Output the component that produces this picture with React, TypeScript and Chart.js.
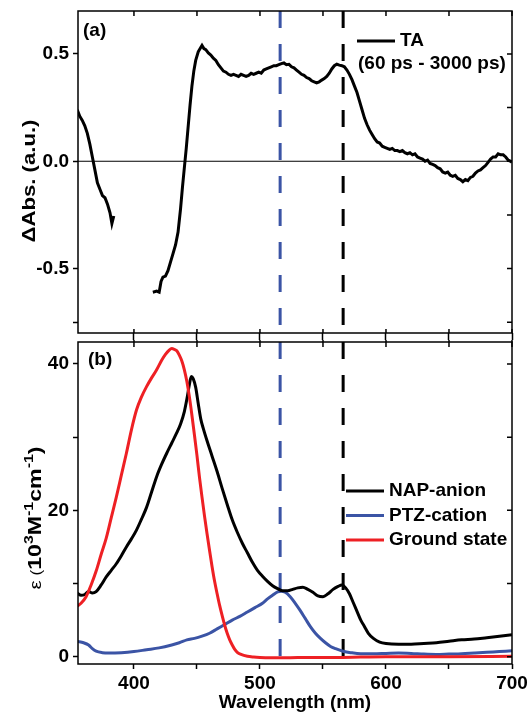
import React, { useEffect, useRef } from "react";
import { Chart, registerables } from "chart.js";

Chart.register(...registerables);

const FONT_FAMILY = "'Liberation Sans', Arial, Helvetica, sans-serif";
const BLUE = "#3B54A5";
const RED = "#EE2024";
const BLACK = "#000000";

// Axes
const X_MIN = 355.6;
const X_MAX = 700;
const X_TICKS = [400, 450, 500, 550, 600, 650, 700];
const X_LABELED = [400, 500, 600, 700];
const A_Y_MIN = -0.8;
const A_Y_MAX = 0.7;
const A_Y_TICKS = [-0.75, -0.5, -0.25, 0, 0.25, 0.5];
const A_Y_LABELED = [-0.5, 0, 0.5];
const A_Y_LEFT_MARKS = [-0.75, -0.5, 0, 0.5];
const B_Y_MIN = -1;
const B_Y_MAX = 43;
const B_Y_TICKS = [0, 10, 20, 30, 40];
const B_Y_LABELED = [0, 20, 40];

// Marker wavelengths (dashed lines)
const MARK_PTZ = 516;
const MARK_NAP = 566;

// Panel (a): TA spectrum, two segments
const TA1_WL = [355, 357, 359, 361, 363, 365, 367, 369, 371, 373, 375, 377, 379, 381, 382.5, 384];
const TA1_VAL = [0.24, 0.21, 0.19, 0.165, 0.13, 0.08, 0.02, -0.04, -0.1, -0.13, -0.16, -0.17, -0.2, -0.24, -0.29, -0.255];

const TA2_WL = [
  415, 418, 420, 421.5, 423, 425, 427, 429, 431, 433,
  435, 437, 438.5, 440, 441.5, 443, 444.5, 446, 447.5, 449,
  451, 453, 454, 455.5, 457, 459, 461, 463, 465, 467,
  469, 471, 473, 475, 477, 479, 481, 483, 485, 487,
  489, 491, 493, 495, 497, 499, 501, 503, 505, 507,
  509, 511, 513, 515, 517, 519, 521, 523, 525, 527,
  529, 531, 533, 535, 537, 539, 541, 543, 545, 547,
  549, 551, 553, 555, 557, 559, 561, 563, 565, 567,
  569, 571, 573, 575, 577, 579, 581, 583, 585, 587,
  589, 591, 593, 595, 597, 599, 601, 603, 605, 607,
  609, 611, 613, 615, 617, 619, 621, 623, 625, 627,
  629, 631, 633, 635, 637, 639, 641, 643, 645, 647,
  649, 651, 653, 655, 657, 659, 661, 663, 665, 667,
  669, 671, 673, 675, 677, 679, 681, 683, 685, 687,
  689, 691, 693, 695, 697, 699, 700,
];
const TA2_VAL = [
  -0.61, -0.605, -0.61, -0.56, -0.54, -0.535, -0.51, -0.47, -0.43, -0.39,
  -0.33, -0.22, -0.12, -0.03, 0.06, 0.16, 0.26, 0.35, 0.42, 0.47,
  0.51, 0.53, 0.54, 0.525, 0.52, 0.505, 0.495, 0.48, 0.47, 0.45,
  0.435, 0.42, 0.415, 0.405, 0.4, 0.405, 0.4, 0.395, 0.405, 0.4,
  0.395, 0.4, 0.41, 0.405, 0.41, 0.415, 0.41, 0.425, 0.43, 0.435,
  0.44, 0.445, 0.445, 0.45, 0.455, 0.458, 0.45, 0.452, 0.44, 0.435,
  0.425, 0.415, 0.405, 0.4, 0.39, 0.385, 0.375, 0.37, 0.365, 0.37,
  0.378, 0.385, 0.395, 0.41, 0.43, 0.445, 0.452, 0.448, 0.445, 0.44,
  0.425, 0.405, 0.38, 0.35, 0.32, 0.28, 0.24, 0.2, 0.17, 0.145,
  0.125, 0.105, 0.09, 0.085, 0.07, 0.065, 0.06, 0.055, 0.06, 0.05,
  0.05, 0.045, 0.05, 0.04, 0.035, 0.04, 0.03, 0.035, 0.02, 0.015,
  0.01, 0.0, 0.005, -0.01, -0.015, -0.02, -0.03, -0.035, -0.05, -0.055,
  -0.05, -0.065, -0.07, -0.065, -0.08, -0.085, -0.095, -0.085, -0.09, -0.075,
  -0.07, -0.055, -0.045, -0.04, -0.03, -0.02, -0.005, 0.01, 0.02, 0.02,
  0.035, 0.03, 0.03, 0.02, 0.005, 0.0, -0.005,
];

// Panel (b): NAP-anion
const NAP_WL = [
  355, 358, 361, 364, 367, 370, 374, 378, 382, 386,
  390, 394, 398, 402, 406, 410, 414, 418, 422, 426,
  430, 434, 437, 440, 442, 444, 445.5, 447, 449, 451,
  453, 455, 458, 462, 466, 470, 474, 478, 482, 486,
  490, 494, 498, 502, 506, 510, 514, 518, 522, 526,
  530, 534, 538, 542, 546, 550, 554, 558, 562, 565,
  568, 571, 574, 577, 580, 583, 586, 590, 595, 600,
  610, 620, 630, 640, 650, 660, 670, 680, 690, 700,
];
const NAP_VAL = [
  8.7, 8.4, 8.5, 8.9, 8.7, 8.9, 9.8, 10.9, 11.8, 12.7,
  13.8, 15.0, 16.1, 17.3, 18.8, 20.4, 22.5, 24.6, 26.3, 27.8,
  29.2, 30.6, 31.8, 33.5, 35.2, 37.2, 38.3, 38.0, 36.8, 34.6,
  32.5, 31.2, 29.5, 27.4, 25.3, 23.0, 20.8, 18.7, 17.0, 15.5,
  14.2, 12.9, 11.8, 11.0, 10.3, 9.7, 9.3, 9.0, 9.0, 9.2,
  9.4, 9.5, 9.2, 8.8, 8.3, 8.2, 8.6, 9.2, 9.6, 9.8,
  9.4, 8.6, 7.4, 6.2, 5.0, 4.1, 3.2, 2.5, 2.0, 1.8,
  1.7, 1.7, 1.8, 1.9, 2.1, 2.3, 2.4, 2.6, 2.8, 3.0,
];

// Panel (b): PTZ-cation
const PTZ_WL = [
  355, 360, 364, 367, 370, 375, 380, 390, 400, 410,
  420, 430, 436, 442, 448, 454, 460, 466, 472, 478,
  484, 490, 496, 502, 506, 510, 514, 517, 520, 524,
  528, 532, 536, 540, 544, 548, 552, 556, 560, 566,
  572, 580, 590, 600, 610, 620, 630, 640, 650, 660,
  670, 680, 690, 700,
];
const PTZ_VAL = [
  2.1, 1.9, 1.6, 1.1, 0.75, 0.55, 0.5, 0.55, 0.7, 0.95,
  1.2, 1.6, 1.9, 2.3, 2.5, 2.8, 3.2, 3.8, 4.4, 5.0,
  5.5, 6.1, 6.7, 7.3, 7.9, 8.4, 8.85, 8.95, 8.8, 8.2,
  7.3, 6.3, 5.2, 4.1, 3.2, 2.5, 1.9, 1.4, 1.1, 0.75,
  0.55, 0.4, 0.4, 0.45, 0.5, 0.45, 0.35, 0.3, 0.35, 0.4,
  0.5, 0.6, 0.7, 0.8,
];

// Panel (b): Ground state
const GS_WL = [
  355, 358, 362, 366, 370, 374, 378, 382, 386, 390,
  394, 398, 402, 406, 410, 414, 418, 422, 425, 428,
  430, 432, 434, 436, 438, 440, 442, 444, 446, 448,
  450, 452, 454, 456, 458, 460, 462, 464, 466, 468,
  470, 472, 474, 476, 478, 480, 482, 485, 490, 495,
  500, 520, 540, 560, 580, 600, 650, 700,
];
const GS_VAL = [
  6.9, 7.3, 8.2, 9.8, 11.7, 14.0, 16.2, 19.0, 21.8, 24.8,
  27.8, 31.0, 33.7, 35.5, 36.9, 38.1, 39.2, 40.5, 41.3, 41.9,
  42.1, 42.0, 41.8, 41.2, 40.4, 39.2, 37.6, 35.5, 33.0, 30.3,
  27.5, 24.5, 21.8, 19.2, 16.8, 14.5, 12.3, 10.3, 8.6, 7.0,
  5.6, 4.3, 3.2, 2.3, 1.6, 1.0, 0.6, 0.3, 0.05, -0.05,
  -0.1, -0.15, -0.1, -0.1, -0.05, 0.0, 0.0, 0.05,
];

const pts = (xs: number[], ys: number[]) => xs.map((x, i) => ({ x, y: ys[i] }));
const vline = (x: number, top: number, bottom: number) => [
  { x, y: top },
  { x, y: bottom },
];
const inList = (list: number[], v: number) => list.some((t) => Math.abs(t - v) < 1e-6);
const setTicks = (list: number[]) => (s: any) => {
  s.ticks = list.map((value) => ({ value }));
};

const tickFont = { family: FONT_FAMILY, size: 19, weight: "bold" as const };

type Part = { t: string; s: number; w: string; r?: number };

function drawRotatedRich(ctx: any, cx: number, cy: number, parts: Part[], len: number) {
  let natural = 0;
  const widths = parts.map((p) => {
    ctx.font = `${p.w} ${p.s}px ${FONT_FAMILY}`;
    const w = ctx.measureText(p.t).width;
    natural += w;
    return w;
  });
  const stretch = len / natural;
  ctx.save();
  ctx.translate(cx, cy);
  ctx.rotate(-Math.PI / 2);
  ctx.scale(stretch, 1);
  ctx.fillStyle = BLACK;
  ctx.textBaseline = "alphabetic";
  ctx.textAlign = "left";
  let x = -natural / 2;
  parts.forEach((p, i) => {
    ctx.font = `${p.w} ${p.s}px ${FONT_FAMILY}`;
    ctx.fillText(p.t, x, 6.8 - (p.r || 0));
    x += widths[i];
  });
  ctx.restore();
}

const framePlugin = {
  id: "frame",
  afterDatasetsDraw(chart: any, _args: any, o: any) {
    const { ctx, chartArea: a, scales } = chart;
    const xs = scales.x;
    const ys = scales.y;
    ctx.save();
    ctx.strokeStyle = BLACK;
    ctx.lineWidth = 1.5;
    ctx.strokeRect(a.left, a.top, a.right - a.left, a.bottom - a.top);
    ctx.beginPath();
    xs.ticks.forEach((t: any) => {
      const px = xs.getPixelForValue(t.value);
      ctx.moveTo(px, a.top - (o.topOut || 0));
      ctx.lineTo(px, a.top + 5);
      if (o.bottomIn) {
        ctx.moveTo(px, a.bottom);
        ctx.lineTo(px, a.bottom - o.bottomIn);
      }
    });
    ys.ticks.forEach((t: any) => {
      const py = ys.getPixelForValue(t.value);
      ctx.moveTo(a.right, py);
      ctx.lineTo(a.right - 5, py);
    });
    ctx.stroke();

    ctx.fillStyle = BLACK;
    ctx.font = `bold 19px ${FONT_FAMILY}`;
    ctx.textBaseline = "middle";
    ctx.textAlign = "left";
    ctx.fillText(o.label, a.left + o.labelDx, a.top + o.labelDy);

    o.legend.forEach((item: any, i: number) => {
      const y = a.top + o.legendDy + i * o.legendGap;
      const x0 = a.left + o.legendDx;
      ctx.font = `bold 19px ${FONT_FAMILY}`;
      ctx.textBaseline = "middle";
      if (item.color) {
        ctx.strokeStyle = item.color;
        ctx.lineWidth = 3;
        ctx.beginPath();
        ctx.moveTo(x0, y);
        ctx.lineTo(x0 + 38, y);
        ctx.stroke();
        ctx.fillStyle = BLACK;
        ctx.fillText(item.text, x0 + 43, y);
      } else {
        ctx.fillStyle = BLACK;
        ctx.fillText(item.text, x0 + (item.indent || 0), y);
      }
    });

    const yt = o.yTitle;
    drawRotatedRich(ctx, yt.cx, (a.top + a.bottom) / 2 + yt.dy, yt.parts, yt.len);
    ctx.restore();
  },
};

const lineWidth = 3;

function configA(): any {
  return {
    type: "line",
    data: {
      datasets: [
        { data: pts(TA2_WL, TA2_VAL), borderColor: BLACK, borderWidth: lineWidth, pointRadius: 0, tension: 0 },
        { data: pts(TA1_WL, TA1_VAL), borderColor: BLACK, borderWidth: lineWidth, pointRadius: 0, tension: 0 },
        { data: vline(MARK_NAP, A_Y_MAX, A_Y_MIN), borderColor: BLACK, borderWidth: 3, borderDash: [17, 16], pointRadius: 0 },
        { data: vline(MARK_PTZ, A_Y_MAX, A_Y_MIN), borderColor: BLUE, borderWidth: 3, borderDash: [17, 16], pointRadius: 0 },
        { data: [{ x: X_MIN, y: 0 }, { x: X_MAX, y: 0 }], borderColor: BLACK, borderWidth: 1.2, pointRadius: 0 },
      ],
    },
    options: {
      responsive: false,
      animation: false,
      devicePixelRatio: 1,
      layout: { padding: { left: 0, right: 17, top: 11, bottom: 0 } },
      plugins: {
        legend: { display: false },
        tooltip: { enabled: false },
        frame: {
          label: "(a)",
          labelDx: 5,
          labelDy: 20,
          bottomIn: 4,
          topOut: 0,
          legendDx: 279,
          legendDy: 30,
          legendGap: 23,
          legend: [
            { text: "TA", color: BLACK },
            { text: "(60 ps - 3000 ps)", indent: 1 },
          ],
          yTitle: {
            cx: 28,
            dy: 9,
            len: 123,
            parts: [{ t: "ΔAbs. (a.u.)", s: 19, w: "bold" }],
          },
        },
      },
      scales: {
        x: {
          type: "linear",
          min: X_MIN,
          max: X_MAX,
          afterBuildTicks: setTicks(X_TICKS),
          ticks: { display: false },
          grid: { display: true, drawOnChartArea: false, drawTicks: true, tickLength: 8, tickColor: BLACK, tickWidth: 1.5 },
          border: { display: false },
          afterFit: (s: any) => {
            s.height = 7;
            s.paddingLeft = 0;
            s.paddingRight = 0;
          },
        },
        y: {
          type: "linear",
          min: A_Y_MIN,
          max: A_Y_MAX,
          afterBuildTicks: setTicks(A_Y_TICKS),
          ticks: {
            color: BLACK,
            font: tickFont,
            padding: 4,
            autoSkip: false,
            callback: (v: number) => (inList(A_Y_LABELED, v) ? v.toFixed(1) : ""),
          },
          grid: {
            display: true,
            drawOnChartArea: false,
            drawTicks: true,
            tickLength: 5,
            tickWidth: 1.5,
            tickColor: (c: any) => (c.tick && inList(A_Y_LEFT_MARKS, c.tick.value) ? BLACK : "rgba(0,0,0,0)"),
          },
          border: { display: false },
          afterFit: (s: any) => {
            s.width = 78;
            s.paddingTop = 0;
            s.paddingBottom = 0;
          },
        },
      },
    },
    plugins: [framePlugin],
  };
}

function configB(): any {
  return {
    type: "line",
    data: {
      datasets: [
        { data: pts(GS_WL, GS_VAL), borderColor: RED, borderWidth: lineWidth, pointRadius: 0, cubicInterpolationMode: "monotone" },
        { data: pts(NAP_WL, NAP_VAL), borderColor: BLACK, borderWidth: lineWidth, pointRadius: 0, cubicInterpolationMode: "monotone" },
        { data: pts(PTZ_WL, PTZ_VAL), borderColor: BLUE, borderWidth: lineWidth, pointRadius: 0, cubicInterpolationMode: "monotone" },
        { data: vline(MARK_NAP, B_Y_MAX, B_Y_MIN), borderColor: BLACK, borderWidth: 3, borderDash: [17, 16], pointRadius: 0 },
        { data: vline(MARK_PTZ, B_Y_MAX, B_Y_MIN), borderColor: BLUE, borderWidth: 3, borderDash: [17, 16], pointRadius: 0 },
      ],
    },
    options: {
      responsive: false,
      animation: false,
      devicePixelRatio: 1,
      layout: { padding: { left: 0, right: 17, top: 2, bottom: 0 } },
      plugins: {
        legend: { display: false },
        tooltip: { enabled: false },
        frame: {
          label: "(b)",
          labelDx: 10,
          labelDy: 18,
          bottomIn: 0,
          topOut: 2,
          legendDx: 268,
          legendDy: 149,
          legendGap: 24.5,
          legend: [
            { text: "NAP-anion", color: BLACK },
            { text: "PTZ-cation", color: BLUE },
            { text: "Ground state", color: RED },
          ],
          yTitle: {
            cx: 34,
            dy: 15,
            len: 143,
            parts: [
              { t: "ε", s: 17, w: "normal" },
              { t: " (", s: 14, w: "normal" },
              { t: "10", s: 19, w: "bold" },
              { t: "3", s: 13, w: "bold", r: 8 },
              { t: "M", s: 19, w: "bold" },
              { t: "-1", s: 13, w: "bold", r: 8 },
              { t: "cm", s: 19, w: "bold" },
              { t: "-1", s: 13, w: "bold", r: 8 },
              { t: ")", s: 19, w: "bold" },
            ],
          },
        },
      },
      scales: {
        x: {
          type: "linear",
          min: X_MIN,
          max: X_MAX,
          afterBuildTicks: setTicks(X_TICKS),
          ticks: {
            color: BLACK,
            font: tickFont,
            padding: 3,
            maxRotation: 0,
            autoSkip: false,
            callback: (v: number) => (inList(X_LABELED, v) ? String(v) : ""),
          },
          grid: { display: true, drawOnChartArea: false, drawTicks: true, tickLength: 5, tickColor: BLACK, tickWidth: 1.5 },
          border: { display: false },
          title: {
            display: true,
            text: "Wavelength (nm)",
            color: BLACK,
            font: { family: FONT_FAMILY, size: 19, weight: "bold" },
            padding: { top: 0, bottom: 0 },
          },
          afterFit: (s: any) => {
            s.height = 50;
            s.paddingLeft = 0;
            s.paddingRight = 0;
          },
        },
        y: {
          type: "linear",
          min: B_Y_MIN,
          max: B_Y_MAX,
          afterBuildTicks: setTicks(B_Y_TICKS),
          ticks: {
            color: BLACK,
            font: tickFont,
            padding: 4,
            autoSkip: false,
            callback: (v: number) => (inList(B_Y_LABELED, v) ? String(v) : ""),
          },
          grid: { display: true, drawOnChartArea: false, drawTicks: true, tickLength: 5, tickColor: BLACK, tickWidth: 1.5 },
          border: { display: false },
          afterFit: (s: any) => {
            s.width = 78;
            s.paddingTop = 0;
            s.paddingBottom = 0;
          },
        },
      },
    },
    plugins: [framePlugin],
  };
}

export default function App() {
  const refA = useRef<HTMLCanvasElement>(null);
  const refB = useRef<HTMLCanvasElement>(null);
  useEffect(() => {
    const a = new Chart(refA.current as HTMLCanvasElement, configA());
    const b = new Chart(refB.current as HTMLCanvasElement, configB());
    return () => {
      a.destroy();
      b.destroy();
    };
  }, []);
  return (
    <div style={{ position: "absolute", left: 0, top: 0, width: 529, height: 714, background: "#fff" }}>
      <canvas ref={refA} width={529} height={340} style={{ position: "absolute", left: 0, top: 0 }} />
      <canvas ref={refB} width={529} height={374} style={{ position: "absolute", left: 0, top: 340 }} />
    </div>
  );
}
